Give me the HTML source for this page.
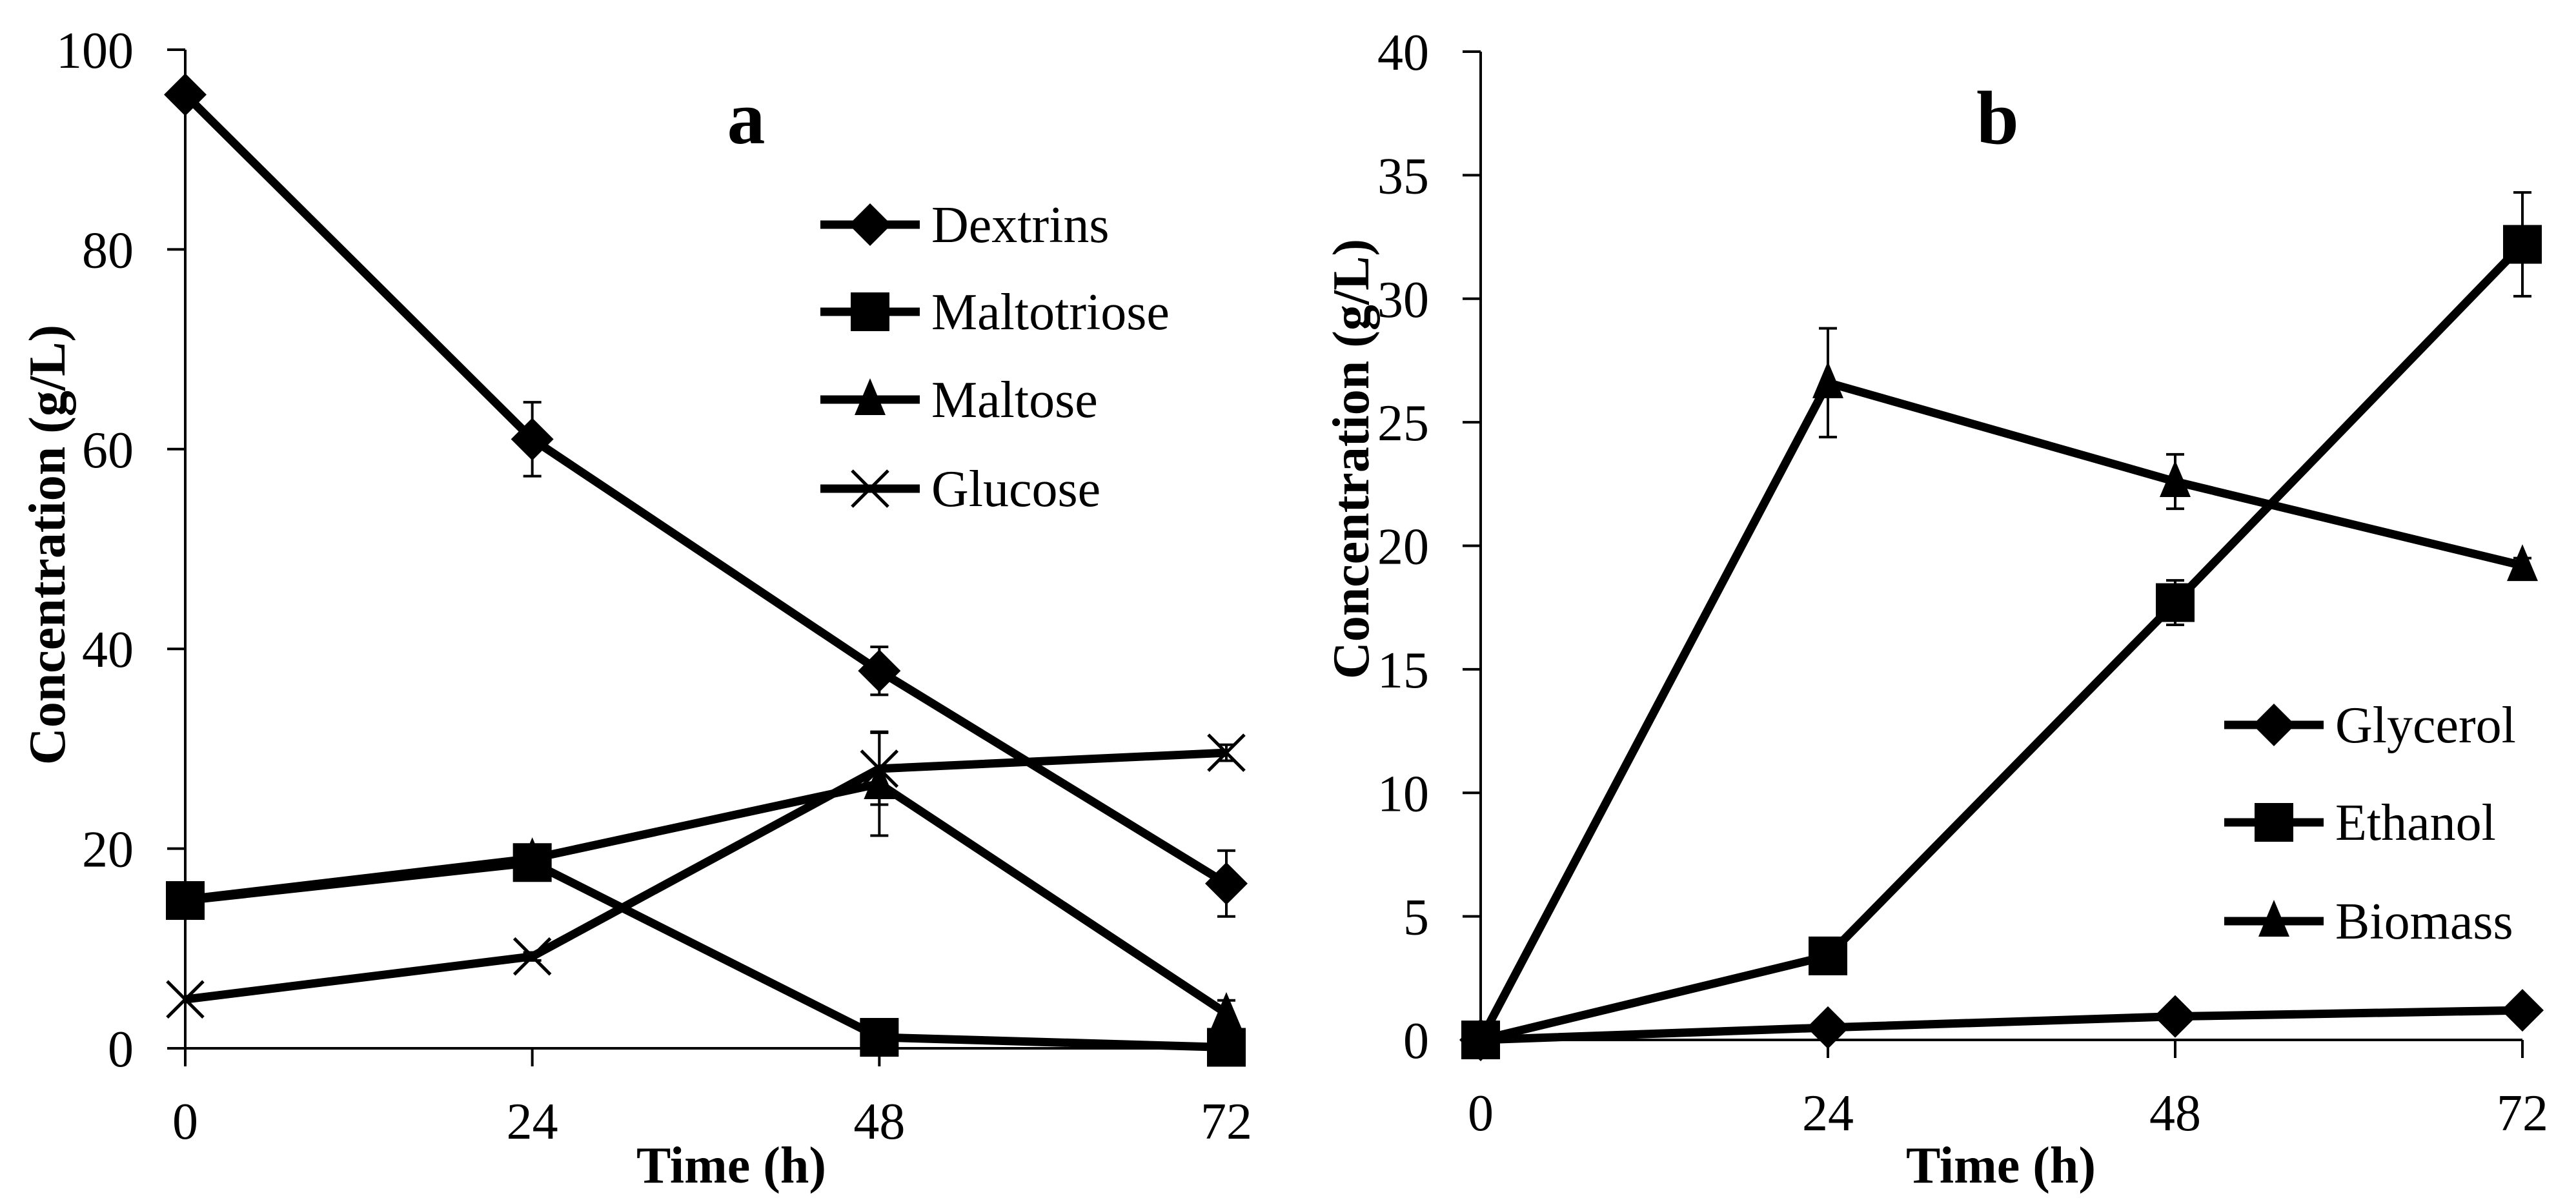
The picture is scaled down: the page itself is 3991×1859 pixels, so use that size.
<!DOCTYPE html>
<html><head><meta charset="utf-8"><style>
html,body{margin:0;padding:0;background:#fff;}
svg{display:block;font-family:"Liberation Serif",serif;}
</style></head><body>
<svg id="chart" width="3991" height="1859" viewBox="0 0 3991 1859" xmlns="http://www.w3.org/2000/svg">
<rect width="3991" height="1859" fill="#fff"/>
</svg>
<script>
const hours = [0, 24, 48, 72];
// panel a
const dextrins = [95.5, 61, 37.8, 16.5];
const dextrinsErr = [0, 3.7, 2.4, 3.3];
const maltotriose = [14.8, 18.6, 1.1, 0.1];
const maltotrioseErr = [0, 0.5, 0, 0];
const maltose = [14.9, 19.0, 26.5, 3.5];
const maltoseErr = [0, 0, 5.2, 1.3];
const glucose = [4.9, 9.2, 28.0, 29.6];
const glucoseErr = [0, 0.4, 3.6, 0.8];
const yTicksA = [0, 20, 40, 60, 80, 100];
// panel b
const glycerol = [0, 0.5, 0.95, 1.2];
const glycerolErr = [0, 0, 0, 0];
const ethanol = [0, 3.4, 17.7, 32.2];
const ethanolErr = [0, 0, 0.9, 2.1];
const biomass = [0, 26.6, 22.6, 19.2];
const biomassErr = [0, 2.2, 1.1, 0.3];
const yTicksB = [0, 5, 10, 15, 20, 25, 30, 35, 40];
const xTicks = [0, 24, 48, 72];

const NS = "http://www.w3.org/2000/svg";
const svg = document.getElementById('chart');
function mk(tag, attrs, parent) {
  const e = document.createElementNS(NS, tag);
  for (const k in attrs) e.setAttribute(k, attrs[k]);
  (parent || svg).appendChild(e);
  return e;
}
function marker(g, type, x, y) {
  let m;
  if (type === 'diamond') m = mk('polygon', {points: `${x},${y-33} ${x+33},${y} ${x},${y+33} ${x-33},${y}`, fill: '#000'}, g);
  else if (type === 'square') m = mk('rect', {x: x-30, y: y-30, width: 60, height: 60, fill: '#000'}, g);
  else if (type === 'triangle') m = mk('polygon', {points: `${x},${y-33} ${x+24},${y+24} ${x-24},${y+24}`, fill: '#000'}, g);
  else {
    m = mk('path', {d: `M${x-28},${y-28}L${x+28},${y+28}M${x+28},${y-28}L${x-28},${y+28}`, stroke: '#000', 'stroke-width': 5, fill: 'none'}, g);
  }
  return m;
}
function panel(cfg) {
  const {x0, x1, y0, y1, ymax, yTicks, series, id} = cfg;
  const X = v => x0 + (v / 72) * (x1 - x0);
  const Y = v => y0 - (v / ymax) * (y0 - y1);
  const g = mk('g', {});
  
  
  // axes
  const ax = mk('g', {stroke: '#000', 'stroke-width': 4}, g);
  
  
  mk('line', {x1: x0, y1: Y(ymax), x2: x0, y2: y0 + 28}, ax);
  mk('line', {x1: x0 - 28, y1: y0, x2: X(72), y2: y0}, ax);
  yTicks.forEach(t => {
    mk('line', {x1: x0 - 28, y1: Y(t), x2: x0, y2: Y(t)}, ax);
    const tx = mk('text', {x: x0 - 80, y: Y(t) + 28, 'text-anchor': 'end', 'font-size': 80}, g);
    
    
    tx.textContent = t;
  });
  xTicks.forEach(t => {
    mk('line', {x1: X(t), y1: y0, x2: X(t), y2: y0 + 28}, ax);
    const tx = mk('text', {x: X(t), y: y0 + 140, 'text-anchor': 'middle', 'font-size': 80}, g);
    
    
    tx.textContent = t;
  });
  // series
  series.forEach(s => {
    const sg = mk('g', {}, g);
    
    
    // error bars
    s.vals.forEach((v, i) => {
      const e = s.err[i];
      if (!e) return;
      const eb = mk('path', {d: `M${X(hours[i])},${Y(v-e)}V${Y(v+e)}M${X(hours[i])-14},${Y(v+e)}H${X(hours[i])+14}M${X(hours[i])-14},${Y(v-e)}H${X(hours[i])+14}`, stroke: '#000', 'stroke-width': 4, fill: 'none'}, sg);
      
      
    });
    const pl = mk('polyline', {points: s.vals.map((v, i) => X(hours[i]) + ',' + Y(v)).join(' '), fill: 'none', stroke: '#000', 'stroke-width': 13, 'stroke-linejoin': 'miter'}, sg);
    
    
    s.vals.forEach((v, i) => {
      const m = marker(sg, s.type, X(hours[i]), Y(v));
      
      
    });
  });
  // legend
  const lg = mk('g', {}, g);
  
  
  series.forEach((s, i) => {
    const ly = cfg.legY[i];
    const eg = mk('g', {}, lg);
    
    
    mk('line', {x1: cfg.legX, y1: ly, x2: cfg.legX + 154, y2: ly, stroke: '#000', 'stroke-width': 13}, eg);
    marker(eg, s.type, cfg.legX + 77, ly);
    const t = mk('text', {x: cfg.legX + 172, y: ly + 27, 'font-size': 80}, eg);
    t.textContent = s.name;
  });
  // titles
  const pt = mk('text', {x: cfg.labX, y: 222, 'text-anchor': 'middle', 'font-size': 118, 'font-weight': 'bold'}, g);
  
  
  pt.textContent = cfg.label;
  const xt = mk('text', {x: cfg.xtX, y: 1832, 'text-anchor': 'middle', 'font-size': 80, 'font-weight': 'bold'}, g);
  
  
  xt.textContent = 'Time (h)';
  const yt = mk('text', {x: 0, y: 0, 'text-anchor': 'middle', 'font-size': 80, 'font-weight': 'bold', transform: `translate(${cfg.ytX},${cfg.ytY}) rotate(-90)`}, g);
  
  
  yt.textContent = 'Concentration (g/L)';
}
panel({id: 'panel-a', label: 'a', x0: 287, x1: 1900, y0: 1624, y1: 77, ymax: 100, yTicks: yTicksA,
  labX: 1156, xtX: 1133, ytX: 100, ytY: 844, legX: 1271, legY: [348, 483, 619, 757],
  series: [
    {name: 'Dextrins', type: 'diamond', vals: dextrins, err: dextrinsErr},
    {name: 'Maltotriose', type: 'square', vals: maltotriose, err: maltotrioseErr},
    {name: 'Maltose', type: 'triangle', vals: maltose, err: maltoseErr},
    {name: 'Glucose', type: 'x', vals: glucose, err: glucoseErr}
  ]});
panel({id: 'panel-b', label: 'b', x0: 2294, x1: 3908, y0: 1611, y1: 80, ymax: 40, yTicks: yTicksB,
  labX: 3095, xtX: 3100, ytX: 2120, ytY: 711, legX: 3446, legY: [1123, 1274, 1427],
  series: [
    {name: 'Glycerol', type: 'diamond', vals: glycerol, err: glycerolErr},
    {name: 'Ethanol', type: 'square', vals: ethanol, err: ethanolErr},
    {name: 'Biomass', type: 'triangle', vals: biomass, err: biomassErr}
  ]});
</script>
</body></html>
